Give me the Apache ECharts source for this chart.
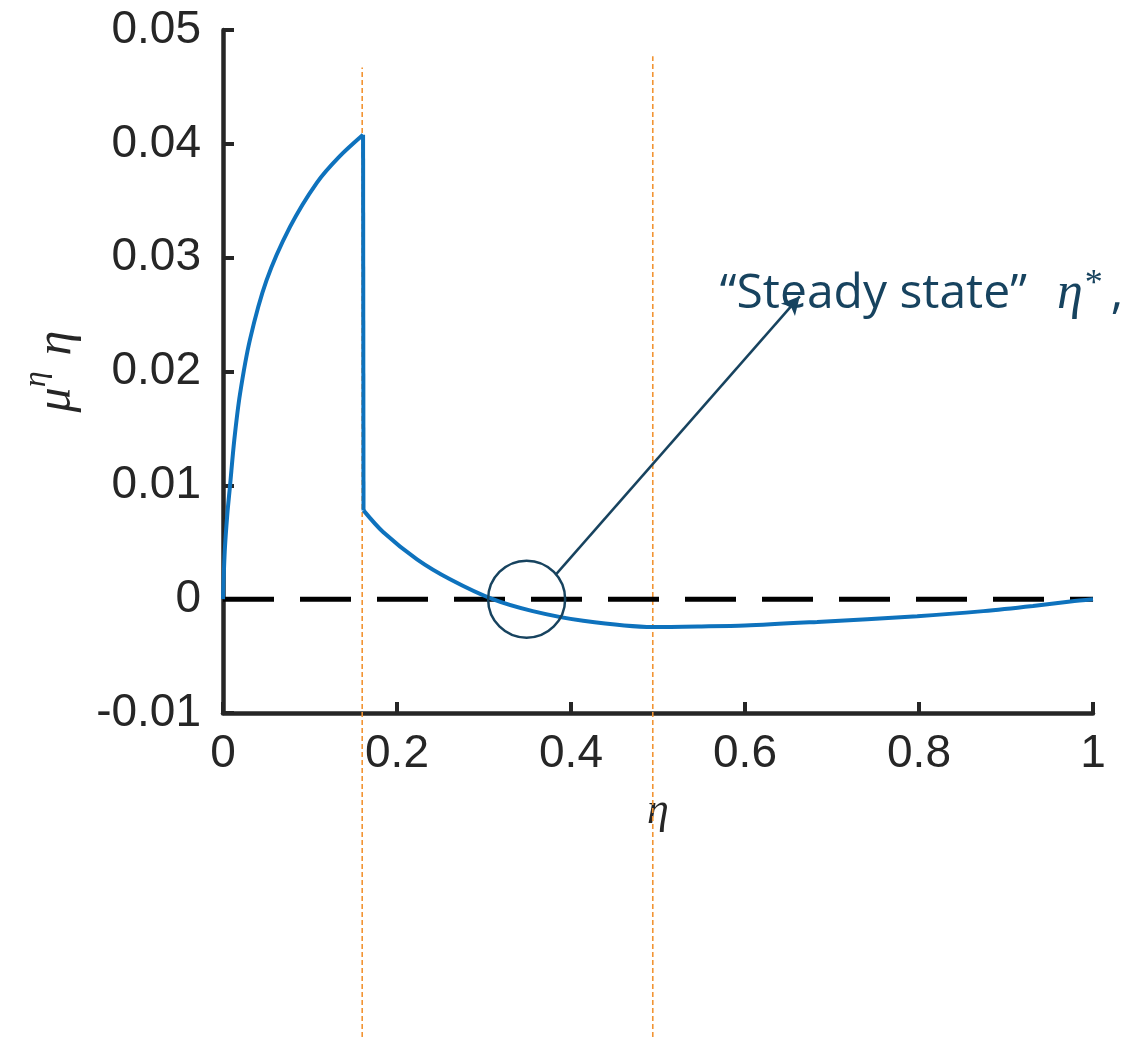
<!DOCTYPE html>
<html>
<head>
<meta charset="utf-8">
<script src="https://cdn.jsdelivr.net/npm/echarts@6/dist/echarts.min.js"></script>
<style>
  html, body { margin: 0; padding: 0; background: #fff; }
  #chart { width: 1132px; height: 1037px; }
</style>
</head>
<body>
<div id="chart"></div>
<script>
// Drift of eta: mu^eta * eta as a function of eta
const etaValues = [0, 0.002, 0.005, 0.008, 0.013, 0.0195, 0.031, 0.05, 0.077, 0.108, 0.134, 0.161,
                   0.1615, 0.184, 0.223, 0.261, 0.31, 0.356, 0.414, 0.494, 0.55, 0.6, 0.683, 0.798,
                   0.874, 0.931, 0.974, 1.0];
const driftValues = [0, 0.0042, 0.0075, 0.0099, 0.014, 0.018, 0.0228, 0.028, 0.0327, 0.0366, 0.0389, 0.0408,
                     0.0078, 0.0059, 0.0035, 0.00175, 0, -0.00105, -0.0019, -0.00245, -0.0024, -0.00232, -0.002, -0.0015,
                     -0.00105, -0.0006, -0.0002, 0];
// first point after the discontinuity
const jumpIndex = 12;

const xTickLabels = ['0', '0.2', '0.4', '0.6', '0.8', '1'];
const yTickLabels = ['-0.01', '0', '0.01', '0.02', '0.03', '0.04', '0.05'];

// Regime boundaries (dotted guides)
const guideEta = [0.16, 0.494];
const guideTop = [0.0467, 0.0477];

// Steady state marker and its callout
const steadyState = [0.349, 0];
const calloutStart = [0.383, 0.0022];
const calloutEnd = [0.663, 0.0266];
const calloutTextAt = [0.571, 0.0268];

// y range of the full-height overlay, in the same units as the drift axis
const overlayYMin = -0.03833;
const overlayYMax = 0.05263;

const axisColor = '#262626';
const noteColor = '#17435f';
const curveColor = '#0e72bd';

const chart = echarts.init(document.getElementById('chart'), null, { renderer: 'canvas' });

const curve = etaValues.map((x, i) => [x, driftValues[i]]);

function curvePiece(data, smooth) {
  return {
    type: 'line', xAxisIndex: 0, yAxisIndex: 0, symbol: 'none', silent: true,
    data: data, smooth: smooth,
    lineStyle: { color: curveColor, width: 4 },
    z: 4
  };
}

const option = {
  animation: false,
  backgroundColor: '#ffffff',
  grid: [
    { left: 223, right: 39, top: 30, bottom: 324, containLabel: false, outerBoundsMode: 'none' },
    { left: 223, right: 39, top: 0, bottom: 0, containLabel: false, outerBoundsMode: 'none' }
  ],
  xAxis: [
    {
      gridIndex: 0, type: 'value', min: 0, max: 1, interval: 0.2,
      axisLine: { show: true, onZero: false, lineStyle: { color: axisColor, width: 4.5 } },
      axisTick: { show: true, inside: true, length: 11, lineStyle: { color: axisColor, width: 4 } },
      axisLabel: {
        show: true, margin: 18, color: axisColor, fontFamily: 'Liberation Sans', fontSize: 46,
        formatter: (v, i) => xTickLabels[i]
      },
      splitLine: { show: false },
      name: 'η', nameLocation: 'middle', nameGap: 76,
      nameTextStyle: { fontFamily: 'Liberation Serif', fontStyle: 'italic', fontSize: 44, color: axisColor }
    },
    {
      gridIndex: 1, type: 'value', min: 0, max: 1, show: false
    }
  ],
  yAxis: [
    {
      gridIndex: 0, type: 'value', min: -0.01, max: 0.05, interval: 0.01,
      axisLine: { show: true, onZero: false, lineStyle: { color: axisColor, width: 4.5 } },
      axisTick: { show: true, inside: true, length: 11, lineStyle: { color: axisColor, width: 4 } },
      axisLabel: {
        show: true, margin: 22, color: axisColor, fontFamily: 'Liberation Sans', fontSize: 46,
        formatter: (v, i) => yTickLabels[i]
      },
      splitLine: { show: false },
      name: '{mu|μ}{sup|η}{eta|η}', nameLocation: 'middle', nameRotate: 90, nameGap: 130,
      nameTextStyle: {
        color: axisColor,
        rich: {
          mu: { fontFamily: 'Liberation Serif', fontStyle: 'italic', fontSize: 50, color: axisColor },
          sup: { fontFamily: 'Liberation Serif', fontStyle: 'italic', fontSize: 32, color: axisColor, padding: [0, 16, 40, 0] },
          eta: { fontFamily: 'Liberation Serif', fontStyle: 'italic', fontSize: 50, color: axisColor }
        }
      }
    },
    {
      gridIndex: 1, type: 'value', min: overlayYMin, max: overlayYMax, show: false
    }
  ],
  series: [
    // zero reference
    {
      type: 'line', xAxisIndex: 0, yAxisIndex: 0, symbol: 'none', silent: true,
      data: [[0, 0], [1, 0]],
      lineStyle: { color: '#000000', width: 5, type: [51, 26] },
      z: 3
    },
    // drift curve: rising branch, discontinuity, decaying branch
    curvePiece(curve.slice(0, jumpIndex), 0.3),
    curvePiece(curve.slice(jumpIndex - 1, jumpIndex + 1), false),
    curvePiece(curve.slice(jumpIndex), 0.3),
    // steady state circle with arrow to its label
    {
      type: 'scatter', xAxisIndex: 0, yAxisIndex: 0, silent: true,
      data: [steadyState],
      symbol: 'circle', symbolSize: 77,
      itemStyle: { color: 'rgba(0,0,0,0)', borderColor: noteColor, borderWidth: 2.5, opacity: 1 },
      markLine: {
        silent: true, symbol: ['none', 'arrow'], symbolSize: [14, 18],
        label: { show: false },
        lineStyle: { color: noteColor, width: 2.5, type: 'solid', opacity: 1 },
        data: [[{ coord: calloutStart }, { coord: calloutEnd }]]
      },
      z: 5
    },
    {
      type: 'scatter', xAxisIndex: 0, yAxisIndex: 0, silent: true,
      data: [calloutTextAt], symbolSize: 0,
      itemStyle: { opacity: 1 },
      label: {
        show: true, position: 'right', distance: 0, opacity: 1,
        formatter: '{t|“Steady state”}{e|η}{s|*}{c|,}',
        rich: {
          t: { fontFamily: 'Open Sans', fontSize: 48, color: noteColor },
          e: { fontFamily: 'Liberation Serif', fontStyle: 'italic', fontSize: 52, color: noteColor, padding: [0, 0, 0, 30] },
          s: { fontFamily: 'Liberation Serif', fontSize: 36, color: noteColor, padding: [0, 0, 20, 2] },
          c: { fontFamily: 'Open Sans', fontSize: 48, color: noteColor, padding: [0, 0, 0, 8] }
        }
      },
      z: 6
    },
    // dotted regime guides over the full height
    ...guideEta.map((x, i) => ({
      type: 'line', xAxisIndex: 1, yAxisIndex: 1, symbol: 'none', silent: true,
      data: [[x, overlayYMin], [x, guideTop[i]]],
      lineStyle: { color: '#f29433', width: 1.6, type: [5, 3] },
      z: 2
    }))
  ]
};

chart.setOption(option);
</script>
</body>
</html>
